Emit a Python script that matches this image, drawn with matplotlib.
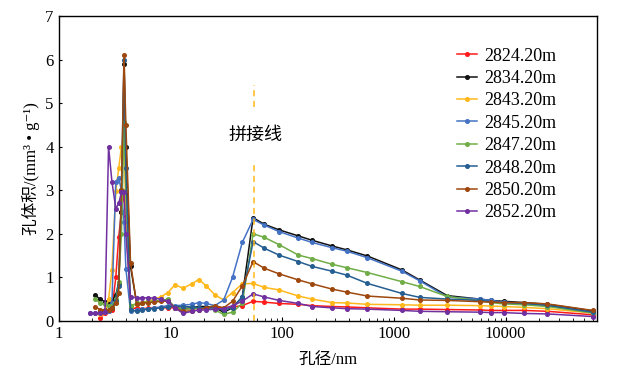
import numpy as np
import matplotlib
matplotlib.use("Agg")
import matplotlib.pyplot as plt

# sample labels and colours
labels = ["2824.20m", "2834.20m", "2843.20m", "2845.20m",
          "2847.20m", "2848.20m", "2850.20m", "2852.20m"]
colors = ["#ff1a1a", "#111111", "#ffb81c", "#4472c4",
          "#70ad47", "#255e91", "#9e480e", "#7030a0"]

# pore diameter (nm): N2 adsorption part, then mercury injection part
x_n2 = [1.9, 2.1, 2.35, 2.6, 2.8, 3.0, 3.25, 3.45, 3.65, 3.85, 4.0, 4.4,
        5.0, 5.6, 6.3, 7.2, 8.2, 9.5, 11, 13, 15.5, 18, 21, 25, 30, 36, 44]
x_hg = [55, 69, 94, 140, 186, 280, 380, 580, 1180, 1700, 3000,
        5900, 7400, 9600, 14700, 23600, 60000]

nan = np.nan
v_n2 = [
    [nan, nan, 0.07, 0.18, 0.22, 0.25, 1.0, 1.93, 2.5, 2.93, 2.4, 0.29,
     0.29, 0.28, 0.29, 0.3, 0.3, 0.3, 0.3, 0.27, 0.28, 0.3, 0.3, 0.31, 0.3, 0.32, 0.35],
    [nan, 0.6, 0.5, 0.44, 0.42, 0.45, 0.6, 0.87, 2.5, 5.9, 4.0, 1.25,
     0.4, 0.42, 0.45, 0.45, 0.47, 0.48, 0.3, 0.28, 0.3, 0.33, 0.33, 0.3, 0.2, 0.3, 0.55],
    [nan, nan, 0.15, 0.2, 0.5, 1.17, 2.98, 3.5, 4.0, 4.08, 2.5, 0.35,
     0.38, 0.42, 0.45, 0.5, 0.55, 0.65, 0.83, 0.75, 0.85, 0.95, 0.8, 0.6, 0.48, 0.65, 0.85],
    [0.17, 0.17, 0.2, 0.2, 0.22, 0.4, 3.2, 3.28, 3.0, 2.28, 1.2, 0.22,
     0.25, 0.27, 0.28, 0.3, 0.32, 0.35, 0.35, 0.36, 0.38, 0.42, 0.4, 0.35, 0.48, 1.0, 1.8],
    [nan, 0.5, 0.42, 0.38, 0.35, 0.35, 0.5, 0.9, 2.0, 4.57, 3.0, 0.35,
     0.4, 0.42, 0.44, 0.45, 0.47, 0.5, 0.3, 0.27, 0.28, 0.3, 0.3, 0.25, 0.15, 0.2, 0.4],
    [nan, nan, 0.2, 0.22, 0.25, 0.3, 0.45, 0.8, 3.0, 6.0, 3.5, 0.25,
     0.22, 0.25, 0.27, 0.28, 0.3, 0.32, 0.33, 0.33, 0.32, 0.3, 0.3, 0.3, 0.25, 0.3, 0.55],
    [nan, 0.33, 0.26, 0.25, 0.25, 0.3, 0.4, 0.65, 3.0, 6.1, 4.5, 1.33,
     0.38, 0.4, 0.42, 0.43, 0.45, 0.45, 0.3, 0.22, 0.23, 0.25, 0.3, 0.35, 0.3, 0.45, 0.8],
    [0.17, 0.17, 0.18, 0.2, 4.0, 3.2, 2.58, 2.7, 2.95, 2.97, 2.0, 0.55,
     0.53, 0.53, 0.53, 0.52, 0.5, 0.45, 0.3, 0.17, 0.22, 0.25, 0.25, 0.27, 0.28, 0.35, 0.45],
]
v_hg = [
    [0.45, 0.43, 0.4, 0.38, 0.35, 0.33, 0.32, 0.3, 0.27, 0.27, 0.26,
     0.25, 0.24, 0.24, 0.24, 0.22, 0.14],
    [2.37, 2.22, 2.09, 1.95, 1.85, 1.72, 1.63, 1.49, 1.17, 0.94, 0.58,
     0.5, 0.47, 0.45, 0.42, 0.38, 0.23],
    [0.86, 0.77, 0.71, 0.57, 0.5, 0.42, 0.41, 0.38, 0.37, 0.36, 0.36,
     0.35, 0.34, 0.33, 0.31, 0.28, 0.18],
    [2.33, 2.2, 2.05, 1.9, 1.8, 1.68, 1.6, 1.45, 1.14, 0.92, 0.55,
     0.5, 0.47, 0.43, 0.4, 0.35, 0.2],
    [2.0, 1.92, 1.75, 1.51, 1.43, 1.3, 1.22, 1.11, 0.9, 0.79, 0.56,
     0.46, 0.42, 0.39, 0.37, 0.33, 0.18],
    [1.82, 1.67, 1.51, 1.36, 1.25, 1.14, 1.05, 0.86, 0.63, 0.54, 0.5,
     0.47, 0.44, 0.42, 0.4, 0.36, 0.2],
    [1.36, 1.21, 1.08, 0.94, 0.85, 0.73, 0.66, 0.57, 0.52, 0.48, 0.47,
     0.44, 0.43, 0.42, 0.42, 0.39, 0.24],
    [0.62, 0.55, 0.47, 0.4, 0.33, 0.3, 0.28, 0.27, 0.24, 0.22, 0.21,
     0.2, 0.19, 0.19, 0.17, 0.16, 0.1],
]

splice_x = 56

serif = ["Liberation Serif", "Noto Sans CJK SC", "DejaVu Serif"]
plt.rcParams["font.family"] = serif

fig, ax = plt.subplots(figsize=(6.3, 3.82), dpi=100)
fig.subplots_adjust(left=0.093, right=0.948, top=0.958, bottom=0.16)

xs = np.array(x_n2 + x_hg)
for lab, c, a, b in zip(labels, colors, v_n2, v_hg):
    ys = np.array(a + b, dtype=float)
    m = ~np.isnan(ys)
    ax.plot(xs[m], ys[m], color=c, lw=1.1, marker="o", ms=2.6, label=lab)

# splice line, interrupted around the text
ax.plot([splice_x, splice_x], [0, 3.62], color="#ffb81c", lw=1.1, ls=(0, (4, 3)))
ax.plot([splice_x, splice_x], [4.9, 5.42], color="#ffb81c", lw=1.1, ls=(0, (4, 3)))
ax.text(splice_x + 2, 4.27, "拼接线", ha="center", va="center", fontsize=13,
        family=["Noto Sans CJK SC"])

ax.set_xscale("log")
ax.set_xlim(1, 66000)
ax.set_ylim(0, 7)
ax.set_xticks([1, 10, 100, 1000, 10000])
ax.set_xticklabels(["1", "10", "100", "1000", "10000"])
ax.set_yticks(range(8))
ax.tick_params(direction="in", labelsize=12, length=3)
ax.tick_params(which="minor", direction="in", length=2)
ax.tick_params(axis="y", length=2)

ax.set_xlabel("孔径/nm", fontsize=12, labelpad=8)
ax.set_ylabel("孔体积/(mm³ • g⁻¹)", fontsize=12, labelpad=4)

for s in ax.spines.values():
    s.set_linewidth(1.0)

ax.legend(loc="upper right", bbox_to_anchor=(0.955, 0.95), frameon=False,
          fontsize=13, handlelength=1.1, handletextpad=0.45, labelspacing=0.3)

fig.savefig("out.png", dpi=100)
